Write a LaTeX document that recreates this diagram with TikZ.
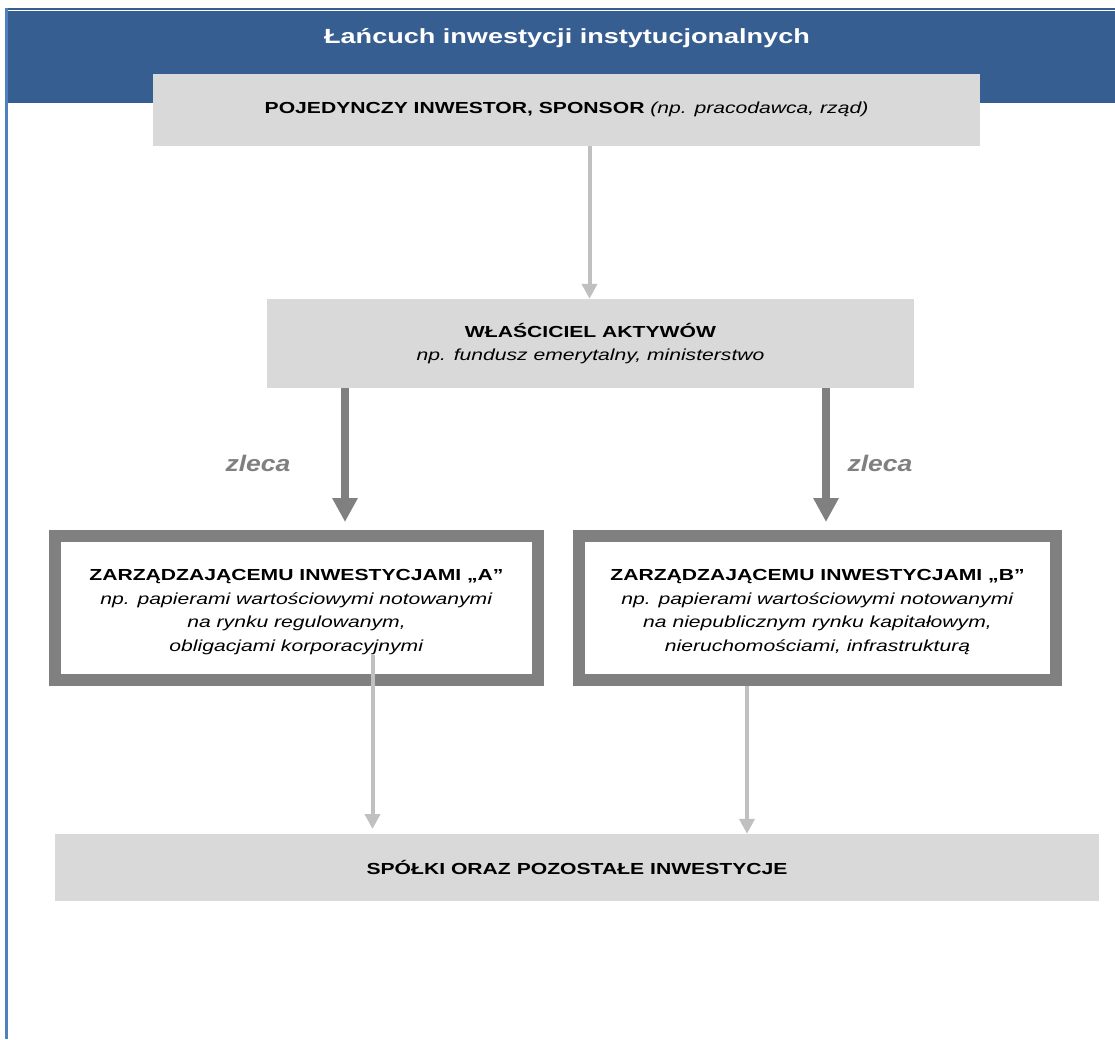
\documentclass[tikz,border=0pt]{standalone}
\usepackage{fontspec}
\setmainfont{Liberation Sans}[FakeStretch=1.32]
\newfontfamily\zfont{Liberation Sans}[FakeStretch=1.18]
\usetikzlibrary{arrows.meta}
\definecolor{hdrblue}{RGB}{54,94,145}
\definecolor{edgeblue}{RGB}{79,129,189}
\definecolor{boxgray}{RGB}{217,217,217}
\definecolor{darkg}{RGB}{128,128,128}
\definecolor{lightg}{RGB}{192,192,192}
\begin{document}
\begin{tikzpicture}[x=1pt,y=-1pt,
  graybox/.style={fill=boxgray,draw=none,inner sep=0pt,align=center,font=\fontsize{16}{23}\selectfont},
  mgrbox/.style={fill=white,draw=darkg,line width=12pt,inner sep=0pt},
  boxtext/.style={inner sep=0pt,align=center,font=\fontsize{16}{23.5}\selectfont},
  thickarrow/.style={draw=darkg,line width=8pt,-{Triangle[width=24pt,length=24pt]}},
  thinarrow/.style={draw=lightg,line width=4pt,-{Triangle[width=15pt,length=15pt]}},
  zlabel/.style={text=darkg,font=\zfont\fontsize{22.5}{26}\selectfont\bfseries\itshape}]
\useasboundingbox (0,0) rectangle (1115,1039);
% header
\fill[hdrblue] (6,8) rectangle (1115,9.5);
\fill[hdrblue] (6,11) rectangle (1115,103);
\fill[edgeblue] (5,8) rectangle (7.5,1039);
\node[text=white,font=\fontsize{20.5}{24}\selectfont\bfseries] (title) at (567,38) {Łańcuch inwestycji instytucjonalnych};
% boxes
\node[graybox,minimum width=827pt,minimum height=72pt] (inv) at (566.5,109.5)
  {\textbf{POJEDYNCZY INWESTOR, SPONSOR} \textit{(np. pracodawca, rząd)}};
\node[graybox,minimum width=647pt,minimum height=89pt] (own) at (590.5,343.5)
  {\textbf{WŁAŚCICIEL AKTYWÓW}\\\textit{np. fundusz emerytalny, ministerstwo}};
\node[mgrbox,minimum width=483pt,minimum height=144pt] (ma) at (296.5,608) {};
\node[boxtext] (maT) at (296.5,612)
  {\textbf{ZARZĄDZAJĄCEMU INWESTYCJAMI „A”}\\\textit{np. papierami wartościowymi notowanymi}\\\textit{na rynku regulowanym,}\\\textit{obligacjami korporacyjnymi}};
\node[mgrbox,minimum width=477pt,minimum height=144pt] (mb) at (817.5,608) {};
\node[boxtext] (mbT) at (817.5,612)
  {\textbf{ZARZĄDZAJĄCEMU INWESTYCJAMI „B”}\\\textit{np. papierami wartościowymi notowanymi}\\\textit{na niepublicznym rynku kapitałowym,}\\\textit{nieruchomościami, infrastrukturą}};
\node[graybox,minimum width=1044pt,minimum height=67pt] (co) at (577,867.5)
  {\textbf{SPÓŁKI ORAZ POZOSTAŁE INWESTYCJE}};
% connectors
\coordinate (aStart) at (372.5,655);
\coordinate (aEnd) at (372.5,829);
\draw[thinarrow] (inv.south -| 589.5,0) -- (own.north -| 589.5,0);
\draw[thickarrow] (own.south -| 345,0) -- ([yshift=8pt]ma.north -| 345,0);
\draw[thickarrow] (own.south -| 826,0) -- ([yshift=8pt]mb.north -| 826,0);
\draw[thinarrow] (aStart) -- (aEnd);
\draw[thinarrow] (mb.south -| 747,0) -- (co.north -| 747,0);
\node[zlabel] (z1) at (258,463) {zleca};
\node[zlabel] (z2) at (880,463) {zleca};
\end{tikzpicture}
\end{document}
